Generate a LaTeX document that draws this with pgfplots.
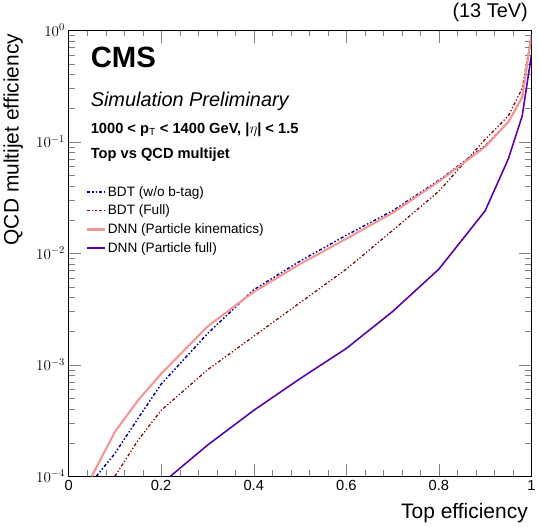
\documentclass[border=0pt]{standalone}
\usepackage{fontspec}
\setmainfont{Liberation Sans}
\setsansfont{Liberation Sans}
\usepackage{pgfplots}
\pgfplotsset{compat=1.18}
\definecolor{pinkc}{RGB}{245,150,150}
\begin{document}
\begin{tikzpicture}
\begin{axis}[
  width=442pt, height=426pt, scale only axis,
  xmin=0, xmax=1, ymin=1e-4, ymax=1, ymode=log,
  xtick={0,0.2,0.4,0.6,0.8,1}, xticklabels={0,0.2,0.4,0.6,0.8,1},
  minor x tick num=4,
  tick align=inside, xtick pos=both, ytick pos=both,
  major tick length=12pt, minor tick length=6pt,
  clip mode=individual,
  /pgf/number format/assume math mode=true,
  ticklabel style={font=\fontsize{14}{16}\selectfont},
  xlabel={Top efficiency}, ylabel={QCD multijet efficiency},
  xlabel style={font=\fontsize{20}{22}\selectfont, at={(rel axis cs:1,0)}, anchor=north east, yshift=-22pt},
  ylabel style={font=\fontsize{20}{22}\selectfont, at={(rel axis cs:0,1)}, anchor=south east, yshift=40pt},
  legend style={draw=none, fill=none, at={(rel axis cs:0.03,0.66)}, anchor=north west, font=\fontsize{13}{15}\selectfont, row sep=3pt},
  legend cell align=left,
]
\addplot[blue!60!black, line width=1.4pt, dash dot dot] coordinates {(0.06,1e-4)(0.1,1.6e-4)(0.15,3.3e-4)(0.2,6.7e-4)(0.3,1.9e-3)(0.4,4.7e-3)(0.5,8.5e-3)(0.6,0.0145)(0.7,0.024)(0.8,0.045)(0.9,0.092)(0.95,0.15)(0.98,0.25)(1.0,0.9)};
\addlegendentry{BDT (w/o b-tag)}
\addplot[red!50!black, line width=1.2pt, dash dot dot] coordinates {(0.1,1e-4)(0.15,2.1e-4)(0.2,3.9e-4)(0.3,9e-4)(0.4,1.8e-3)(0.5,3.6e-3)(0.6,7.2e-3)(0.7,0.016)(0.8,0.036)(0.9,0.105)(0.95,0.17)(0.98,0.3)(1.0,0.9)};
\addlegendentry{BDT (Full)}
\addplot[pinkc, line width=2pt] coordinates {(0.05,1e-4)(0.1,2.5e-4)(0.15,4.8e-4)(0.2,8.3e-4)(0.3,2.2e-3)(0.4,4.5e-3)(0.5,8e-3)(0.6,0.0135)(0.7,0.023)(0.8,0.044)(0.9,0.09)(0.95,0.15)(0.98,0.25)(1.0,0.9)};
\addlegendentry{DNN (Particle kinematics)}
\addplot[violet!70!blue, line width=1.5pt] coordinates {(0.22,1e-4)(0.3,1.9e-4)(0.4,3.9e-4)(0.5,7.5e-4)(0.6,1.4e-3)(0.7,3e-3)(0.8,7.2e-3)(0.9,0.024)(0.95,0.07)(0.98,0.17)(1.0,0.6)};
\addlegendentry{DNN (Particle full)}
\node[anchor=north west, font=\bfseries\fontsize{28}{30}\selectfont] at (rel axis cs:0.04,0.97) {CMS};
\node[anchor=north west, font=\itshape\fontsize{19}{21}\selectfont] at (rel axis cs:0.04,0.87) {Simulation Preliminary};
\node[anchor=north west, font=\bfseries\fontsize{14}{16}\selectfont] at (rel axis cs:0.04,0.80) {1000 < p$_\mathrm{T}$ < 1400 GeV, |$\eta$| < 1.5};
\node[anchor=north west, font=\bfseries\fontsize{14}{16}\selectfont] at (rel axis cs:0.04,0.745) {Top vs QCD multijet};
\node[anchor=south east, font=\fontsize{19}{21}\selectfont] at (rel axis cs:1,1.01) {(13 TeV)};
\end{axis}
\end{tikzpicture}
\end{document}
